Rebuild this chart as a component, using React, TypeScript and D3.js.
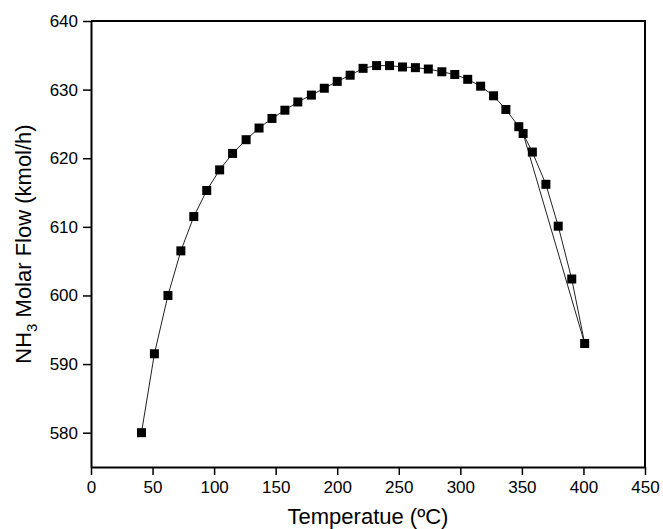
import React, { useEffect, useRef } from 'react';
import * as d3 from 'd3';

const temps = [41, 51.5, 62.5, 73, 83.5, 94, 104.5, 115, 126, 136.5, 147, 157.5, 168, 179, 189.5, 200, 210.5,
  221, 232, 242.5, 253, 263.5, 274, 285, 295.5, 306, 316.5, 327, 337, 347.5, 351, 358.5, 369.5, 379.5, 390.5, 401];
const flows = [580.0, 591.5, 600.0, 606.5, 611.5, 615.3, 618.3, 620.7, 622.7, 624.4, 625.8, 627.0, 628.2, 629.2,
  630.2, 631.2, 632.1, 633.1, 633.5, 633.5, 633.3, 633.2, 633.0, 632.6, 632.2, 631.5, 630.5, 629.1, 627.1, 624.6,
  623.6, 620.9, 616.2, 610.1, 602.4, 593.0];
// straight segment that skips the last points
const skipTemps = [351, 401];
const skipFlows = [623.6, 593.0];

const xTicks = [0, 50, 100, 150, 200, 250, 300, 350, 400, 450];
const yTicks = [580, 590, 600, 610, 620, 630, 640];

const App = () => {
  const chartRef = useRef<SVGSVGElement | null>(null);

  useEffect(() => {
    const width = 663;
    const height = 529;
    const margin = { top: 21, right: 18, bottom: 62, left: 91 };
    const font = 'Arial, "Liberation Sans", sans-serif';

    const svg = d3.select(chartRef.current);
    svg.selectAll('*').remove();

    const x = d3.scaleLinear().domain([0, 450]).range([margin.left, width - margin.right]);
    const y = d3.scaleLinear().domain([575, 640]).range([height - margin.bottom, margin.top]);

    const main = temps.map((t, i) => ({ t, v: flows[i] }));
    const skip = skipTemps.map((t, i) => ({ t, v: skipFlows[i] }));

    const line = d3.line<{ t: number; v: number }>()
      .x(d => x(d.t))
      .y(d => y(d.v));

    svg.append('path')
      .datum(skip)
      .attr('fill', 'none')
      .attr('stroke', '#222')
      .attr('stroke-width', 1)
      .attr('d', line);

    svg.append('path')
      .datum(main)
      .attr('fill', 'none')
      .attr('stroke', '#222')
      .attr('stroke-width', 1)
      .attr('d', line);

    svg.append('g')
      .selectAll('rect')
      .data(main)
      .join('rect')
      .attr('x', d => x(d.t) - 4.5)
      .attr('y', d => y(d.v) - 4.5)
      .attr('width', 9)
      .attr('height', 9)
      .attr('fill', '#000');

    // frame (top and right)
    svg.append('path')
      .attr('d', `M${x(0)},${y(640)}H${x(450)}V${y(575)}`)
      .attr('fill', 'none')
      .attr('stroke', '#000')
      .attr('stroke-width', 2);

    // x axis
    const xAxis = svg.append('g')
      .attr('transform', `translate(0, ${y(575)})`)
      .call(d3.axisBottom(x).tickValues(xTicks).tickSize(8).tickSizeOuter(0).tickPadding(6));
    xAxis.select('.domain').attr('stroke-width', 2);
    xAxis.selectAll('.tick line').attr('stroke-width', 1.5);
    xAxis.selectAll('.tick text').attr('font-size', 17).attr('font-family', font).attr('fill', '#000');

    // y axis
    const yAxis = svg.append('g')
      .attr('transform', `translate(${x(0)}, 0)`)
      .call(d3.axisLeft(y).tickValues(yTicks).tickSize(8).tickSizeOuter(0).tickPadding(5));
    yAxis.select('.domain').attr('stroke-width', 2);
    yAxis.selectAll('.tick line').attr('stroke-width', 1.5);
    yAxis.selectAll('.tick text').attr('font-size', 17).attr('font-family', font).attr('fill', '#000');

    // axis titles
    svg.append('text')
      .attr('x', (x(0) + x(450)) / 2)
      .attr('y', 524)
      .attr('text-anchor', 'middle')
      .attr('font-size', 22)
      .attr('font-family', font)
      .text('Temperatue (ºC)');

    const yTitle = svg.append('text')
      .attr('transform', `translate(31, ${(y(575) + y(640)) / 2}) rotate(-90)`)
      .attr('text-anchor', 'middle')
      .attr('font-size', 22)
      .attr('font-family', font);
    yTitle.append('tspan').text('NH');
    yTitle.append('tspan').attr('font-size', 15).attr('dy', 6).text('3');
    yTitle.append('tspan').attr('dy', -6).text(' Molar Flow (kmol/h)');

    return () => {
      svg.selectAll('*').remove();
    };
  }, []);

  return (
    <svg
      ref={chartRef}
      width={663}
      height={529}
      style={{ position: 'absolute', left: 0, top: 0, background: '#fff' }}
    />
  );
};

export default App;
